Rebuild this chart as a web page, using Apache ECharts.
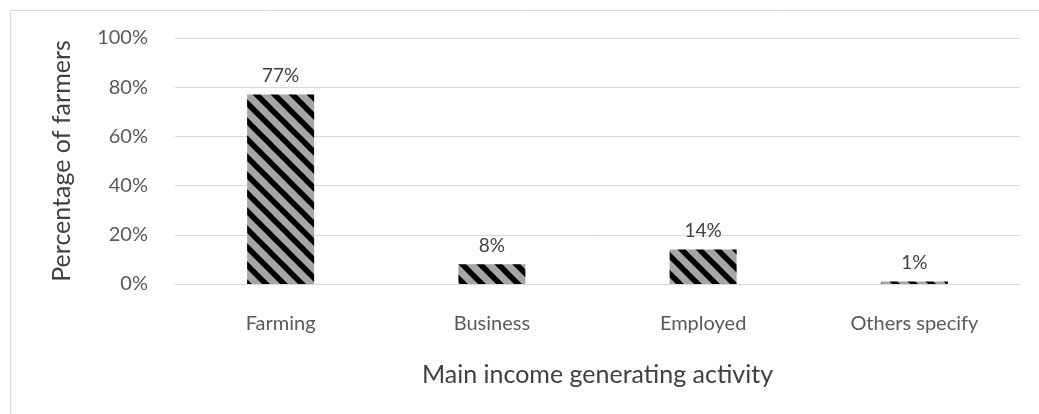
<!DOCTYPE html>
<html>
<head>
<meta charset="utf-8">
<script src="https://cdn.jsdelivr.net/npm/echarts@6/dist/echarts.min.js"></script>
<style>
  html, body { margin: 0; padding: 0; background: #fff; }
  #chart { width: 1039px; height: 414px; }
</style>
</head>
<body>
<div id="chart"></div>
<script>
// Main income generating activity of farmers
const categories = ['Farming', 'Business', 'Employed', 'Others specify'];
const shares = [77, 8, 14, 1];
const yTicks = [0, 20, 40, 60, 80, 100];

// Diagonal hatch: grey ground with black stripes running top-left to bottom-right
function hatchPattern() {
  const s = 18;
  const c = document.createElement('canvas');
  c.width = s; c.height = s;
  const g = c.getContext('2d');
  g.fillStyle = '#a6a6a6';
  g.fillRect(0, 0, s, s);
  g.strokeStyle = '#000';
  g.lineWidth = 5.5;
  for (const off of [-s, 0, s]) {
    g.beginPath();
    g.moveTo(off - 2, -2);
    g.lineTo(off + s + 2, s + 2);
    g.stroke();
  }
  return c;
}

const font = 'Lato, "Open Sans", sans-serif';
const chart = echarts.init(document.getElementById('chart'), null, { renderer: 'canvas' });
chart.setOption({
  animation: false,
  backgroundColor: '#fff',
  graphic: [{
    type: 'rect',
    shape: { x: 10.5, y: 10.5, width: 1100, height: 500 },
    style: { fill: 'none', stroke: '#d9d9d9', lineWidth: 1 },
    silent: true, z: -1
  }],
  grid: { left: 175, right: 19, top: 38, bottom: 130 },
  xAxis: {
    type: 'category',
    data: categories,
    name: 'Main income generating activity',
    nameLocation: 'middle',
    nameGap: 78,
    nameTextStyle: { fontFamily: font, fontSize: 25, color: '#404040' },
    axisLine: { lineStyle: { color: '#d9d9d9', width: 1 } },
    axisTick: { show: false },
    axisLabel: { fontFamily: font, fontSize: 20, color: '#595959', margin: 30 }
  },
  yAxis: {
    type: 'value',
    min: 0, max: 100, interval: 20,
    name: 'Percentage of farmers',
    nameLocation: 'middle',
    nameGap: 101,
    nameTextStyle: { fontFamily: font, fontSize: 25, color: '#404040' },
    axisLine: { show: false },
    axisTick: { show: false },
    splitLine: { lineStyle: { color: '#d9d9d9', width: 1 } },
    axisLabel: {
      fontFamily: font, fontSize: 20, color: '#595959', margin: 27,
      formatter: v => yTicks.includes(v) ? v + '%' : ''
    }
  },
  series: [{
    type: 'bar',
    data: shares,
    barWidth: 67,
    itemStyle: { color: { image: hatchPattern(), repeat: 'repeat' } },
    label: {
      show: true, position: 'top', distance: 9,
      fontFamily: font, fontSize: 19, color: '#404040',
      formatter: p => p.value + '%'
    }
  }]
});
</script>
</body>
</html>
